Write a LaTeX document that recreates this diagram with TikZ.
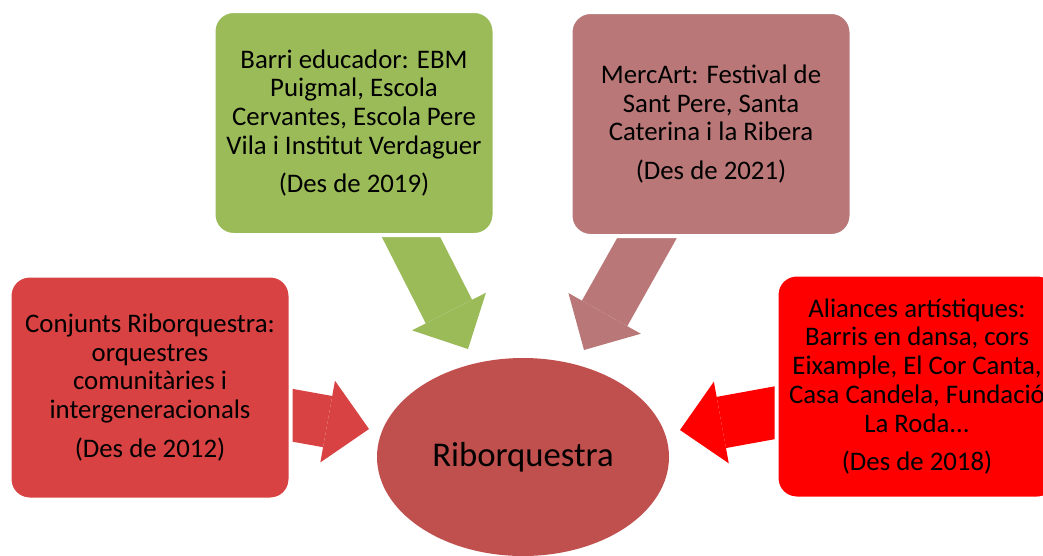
\documentclass[tikz,border=0pt]{standalone}
\usepackage{fontspec}
\setmainfont{Carlito}
\usepackage{tikz}
\usetikzlibrary{arrows.meta,shapes.geometric}
\definecolor{barrigreen}{HTML}{9BBB59}
\definecolor{mercmauve}{HTML}{B97877}
\definecolor{conjred}{HTML}{D94242}
\definecolor{alired}{HTML}{FF0000}
\definecolor{ribred}{HTML}{C0504D}
\pgfdeclarelayer{edgelayer}
\pgfsetlayers{edgelayer,main}

\begin{document}
\begin{tikzpicture}[x=1pt,y=-1pt,
box/.style={rounded corners=20pt,draw=white,line width=4pt,inner sep=0pt,
  minimum width=281pt,minimum height=224pt,align=center,
  font=\fontsize{26.8pt}{28.7pt}\selectfont}]
\useasboundingbox (0,0) rectangle (1043,555);
\node[box,fill=barrigreen] (B) at (354,123) {Barri educador: EBM\\Puigmal, Escola\\Cervantes, Escola Pere\\Vila i Institut Verdaguer\\[10pt](Des de 2019)};
\node[box,fill=mercmauve] (M) at (711,124) {MercArt: Festival de\\Sant Pere, Santa\\Caterina i la Ribera\\[10pt](Des de 2021)};
\node[box,fill=conjred] (C) at (150,387.5) {Conjunts Riborquestra:\\orquestres\\comunitàries i\\intergeneracionals\\[10pt](Des de 2012)};
\node[box,fill=alired] (A) at (917,386.5) {Aliances artístiques:\\Barris en dansa, cors\\Eixample, El Cor Canta,\\Casa Candela, Fundació\\La Roda...\\[10pt](Des de 2018)};
\node[ellipse,fill=ribred,minimum width=292pt,minimum height=198pt,
  font=\fontsize{34.7pt}{40pt}\selectfont] (R) at (523,457) {Riborquestra};
\coordinate (B1) at (399.6,214.6);
\coordinate (B2) at (468,349);
\coordinate (M1) at (659.6,215.6);
\coordinate (M2) at (584,350);
\coordinate (C1) at (280.9,413.2);
\coordinate (C2) at (369,429);
\coordinate (A1) at (787.5,410.4);
\coordinate (A2) at (680,430);
\begin{pgfonlayer}{edgelayer}
\path[line width=52pt,-{Triangle[length=42pt,width=83pt,line width=0pt]}]
(B1) edge[barrigreen] (B2)
(M1) edge[mercmauve] (M2)
(C1) edge[conjred] (C2)
(A1) edge[alired] (A2);
\end{pgfonlayer}
\end{tikzpicture}
\end{document}
